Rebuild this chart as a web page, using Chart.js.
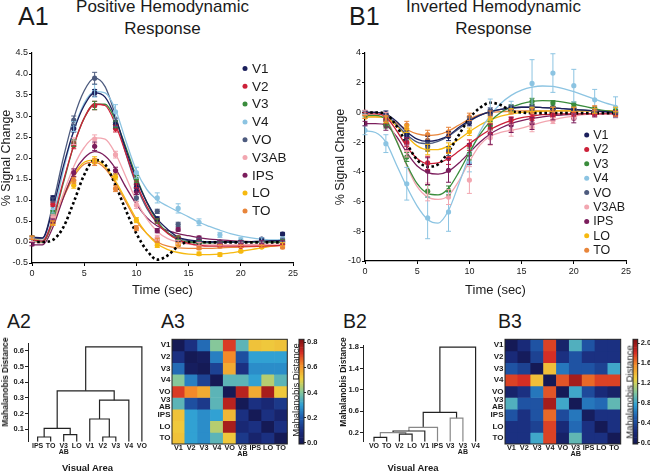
<!DOCTYPE html>
<html>
<head>
<meta charset="utf-8">
<title>Hemodynamic response</title>
<script src="https://cdn.jsdelivr.net/npm/chart.js@4.4.1/dist/chart.umd.min.js"></script>
<style>
  body { margin: 0; background: #fff; }
  #fig { position: relative; width: 650px; height: 471px; overflow: hidden; font-family: "Liberation Sans", Arial, sans-serif; color: #1a1a1a; }
  #fig canvas { position: absolute; }
  .txt { position: absolute; white-space: nowrap; }
  .panel { font-size: 25px; line-height: 1; }
  .small-panel { font-size: 19.5px; line-height: 1; }
  .title { font-size: 17px; line-height: 21.6px; text-align: center; width: 220px; }
  .vt { transform: translate(-50%, -50%) rotate(-90deg); }
  .ht { transform: translate(-50%, -50%); }
  .b { font-weight: bold; }
</style>
</head>
<body>
<div id="fig">
  <div class="txt panel" style="left:18px;top:4px">A1</div>
  <div class="txt title" style="left:52.5px;top:-4px">Positive Hemodynamic<br>Response</div>
  <div class="txt panel" style="left:349px;top:4px">B1</div>
  <div class="txt title" style="left:383.5px;top:-4px">Inverted Hemodynamic<br>Response</div>
  <canvas id="a1" width="325" height="262" style="left:0;top:40px"></canvas>
  <canvas id="b1" width="325" height="262" style="left:325px;top:40px"></canvas>

  <div class="txt small-panel" style="left:7px;top:312px">A2</div>
  <div class="txt small-panel" style="left:161px;top:312px">A3</div>
  <div class="txt small-panel" style="left:343px;top:312px">B2</div>
  <div class="txt small-panel" style="left:498px;top:312px">B3</div>

  <canvas id="a2" width="155" height="136" style="left:0;top:335px"></canvas>
  <canvas id="a3" width="140" height="141" style="left:150px;top:330px"></canvas>
  <canvas id="a3c" width="30" height="141" style="left:295px;top:330px"></canvas>
  <canvas id="b2" width="166" height="136" style="left:320px;top:335px"></canvas>
  <canvas id="b3" width="145" height="141" style="left:480px;top:330px"></canvas>
  <canvas id="b3c" width="21" height="141" style="left:629px;top:330px"></canvas>

  <div class="txt vt b" style="left:5px;top:382px;font-size:8.5px">Mahalanobis Distance</div>
  <div class="txt ht b" style="left:87.5px;top:466.5px;font-size:9.5px">Visual Area</div>
  <div class="txt vt b" style="left:342.7px;top:382px;font-size:8.5px">Mahalanobis Distance</div>
  <div class="txt ht b" style="left:413px;top:466.5px;font-size:9.5px">Visual Area</div>
  <div class="txt vt" style="left:294.5px;top:390px;font-size:9.5px">Mahalanobis Distance</div>
  <div class="txt vt" style="left:628.5px;top:392px;font-size:9.5px">Mahalanobis Distance</div>
</div>

<script>
// ---- data ----
const AREAS = ['V1', 'V2', 'V3', 'V4', 'VO', 'V3AB', 'IPS', 'LO', 'TO'];
const AREA_TICKS = ['V1', 'V2', 'V3', 'V4', 'VO', ['V3', 'AB'], 'IPS', 'LO', 'TO'];
const COLORS = ['#1b1f5c', '#cc2038', '#3a8c3c', '#8cc4e2', '#4d5b7e', '#f2a6b0', '#7b1d5c', '#f6b90f', '#e8853a'];

const T_PTS = [0, 2, 4, 6, 8, 10, 12, 14, 16, 18, 20, 22, 24];
const T_FIT = [0, 1, 2, 3, 4, 5, 6, 7, 8, 9, 10, 11, 12, 13, 14, 15, 16, 17, 18, 19, 20, 21, 22, 23, 24];
const X_TICKS = [0, 5, 10, 15, 20, 25];
const A1_YTICKS = [-0.5, 0, 0.5, 1, 1.5, 2, 2.5, 3, 3.5, 4, 4.5];
const B1_YTICKS = [-10, -8, -6, -4, -2, 0, 2, 4];

// A1: positive response, mean and s.e.m. per area (rows follow AREAS)
const A1_MEAN = [
  [0.10, 1.05, 2.70, 3.55, 2.80, 1.30, 0.55, 0.05, 0.00, -0.02, 0.00, 0.07, 0.19],
  [0.05, 0.90, 2.30, 3.25, 2.70, 1.37, 0.50, 0.10, -0.05, -0.08, -0.10, -0.08, -0.05],
  [0.05, 0.70, 2.35, 3.25, 2.80, 1.50, 0.50, 0.10, 0.00, -0.02, 0.00, 0.00, 0.02],
  [0.05, 0.75, 2.75, 3.60, 3.10, 1.65, 1.05, 0.80, 0.47, 0.17, 0.05, 0.05, 0.07],
  [0.10, 1.00, 2.90, 3.90, 2.85, 1.05, 0.73, 0.42, 0.05, 0.00, 0.00, 0.00, 0.05],
  [0.05, 0.60, 2.40, 2.45, 2.08, 0.88, 0.10, 0.00, -0.05, -0.06, -0.05, -0.05, -0.05],
  [-0.05, 0.50, 1.65, 2.28, 1.70, 1.20, 0.27, 0.30, 0.10, 0.00, 0.00, 0.00, 0.00],
  [0.10, 0.45, 1.35, 1.95, 1.55, 0.52, -0.08, -0.05, -0.28, -0.30, -0.22, -0.12, -0.06],
  [0.10, 0.45, 1.47, 1.90, 1.27, 0.33, 0.04, -0.05, -0.14, -0.10, -0.10, -0.10, -0.12]
];
const A1_SEM = [
  [0.04, 0.05, 0.08, 0.08, 0.08, 0.08, 0.05, 0.04, 0.04, 0.03, 0.03, 0.03, 0.04],
  [0.04, 0.05, 0.08, 0.10, 0.08, 0.08, 0.05, 0.04, 0.04, 0.03, 0.03, 0.03, 0.04],
  [0.04, 0.05, 0.08, 0.10, 0.08, 0.08, 0.05, 0.04, 0.04, 0.03, 0.03, 0.03, 0.04],
  [0.05, 0.06, 0.12, 0.15, 0.17, 0.13, 0.12, 0.11, 0.08, 0.06, 0.05, 0.05, 0.05],
  [0.04, 0.05, 0.10, 0.14, 0.10, 0.08, 0.05, 0.05, 0.04, 0.03, 0.03, 0.03, 0.04],
  [0.04, 0.05, 0.08, 0.10, 0.08, 0.08, 0.06, 0.04, 0.04, 0.03, 0.03, 0.03, 0.04],
  [0.04, 0.05, 0.09, 0.10, 0.08, 0.07, 0.05, 0.04, 0.04, 0.03, 0.03, 0.03, 0.04],
  [0.04, 0.05, 0.07, 0.08, 0.07, 0.06, 0.05, 0.04, 0.04, 0.04, 0.03, 0.03, 0.04],
  [0.04, 0.05, 0.07, 0.08, 0.07, 0.06, 0.05, 0.04, 0.04, 0.04, 0.03, 0.03, 0.04]
];
// fitted curves, read every second
const A1_FIT = [
  [0.12, 0.10, 0.80, 1.80, 2.65, 3.25, 3.55, 3.45, 2.95, 2.20, 1.50, 0.95, 0.55, 0.30, 0.12, 0.05, 0.02, 0, 0, 0, 0, 0.01, 0.02, 0.03, 0.04],
  [0.05, 0.02, 0.55, 1.45, 2.30, 2.95, 3.28, 3.25, 2.80, 2.10, 1.40, 0.85, 0.45, 0.20, 0.05, -0.03, -0.08, -0.10, -0.10, -0.10, -0.10, -0.10, -0.10, -0.09, -0.08],
  [0.05, 0.00, 0.50, 1.40, 2.30, 2.95, 3.28, 3.28, 2.90, 2.25, 1.55, 0.95, 0.50, 0.22, 0.06, 0, -0.02, -0.02, -0.01, 0, 0, 0, 0, 0, 0],
  [0.05, 0.03, 0.60, 1.70, 2.65, 3.30, 3.58, 3.55, 3.15, 2.40, 1.70, 1.25, 1.00, 0.85, 0.72, 0.60, 0.47, 0.37, 0.28, 0.20, 0.14, 0.10, 0.07, 0.05, 0.05],
  [0.10, 0.08, 0.90, 2.00, 2.95, 3.60, 3.90, 3.70, 3.00, 2.10, 1.35, 0.80, 0.45, 0.22, 0.10, 0.03, 0, 0, 0, 0, 0, 0, 0, 0, 0],
  [0, -0.02, 0.45, 1.15, 1.80, 2.25, 2.48, 2.45, 2.10, 1.55, 0.98, 0.55, 0.25, 0.08, 0, -0.05, -0.07, -0.07, -0.07, -0.07, -0.07, -0.06, -0.06, -0.05, -0.05],
  [-0.07, -0.07, 0.35, 1.05, 1.65, 2.00, 2.15, 2.05, 1.75, 1.30, 0.90, 0.58, 0.38, 0.27, 0.20, 0.15, 0.10, 0.07, 0.05, 0.03, 0.02, 0.01, 0, 0, 0],
  [0.10, 0.03, 0.45, 1.10, 1.60, 1.90, 1.95, 1.80, 1.45, 1.00, 0.55, 0.20, -0.05, -0.18, -0.25, -0.29, -0.30, -0.30, -0.29, -0.26, -0.22, -0.18, -0.14, -0.10, -0.07],
  [0.10, 0.03, 0.45, 1.05, 1.55, 1.85, 1.90, 1.75, 1.40, 0.95, 0.50, 0.20, 0, -0.10, -0.14, -0.15, -0.15, -0.15, -0.14, -0.13, -0.12, -0.11, -0.10, -0.09, -0.08]
];
const A1_HRF = [0, 0, 0.05, 0.35, 0.95, 1.60, 1.95, 1.85, 1.35, 0.75, 0.20, -0.20, -0.42, -0.32, -0.10, 0, 0, -0.01, -0.01, -0.01, -0.01, -0.01, -0.01, -0.01, -0.01];

// B1: inverted response
const B1_MEAN = [
  [0, -0.10, -1.50, -1.90, -1.60, -0.70, 0.10, 0.35, 0.40, 0.30, 0.20, 0.10, 0],
  [-0.10, -0.50, -2.00, -3.40, -3.10, -2.20, -1.10, -0.50, -0.35, -0.20, -0.10, -0.10, -0.20],
  [-0.20, -0.80, -3.00, -5.30, -5.25, -2.80, -0.90, 0.30, 0.75, 0.65, 0.55, 0.20, 0.10],
  [-1.20, -2.10, -4.80, -7.10, -6.70, -3.40, 0.10, 0.35, 1.95, 2.65, 1.80, 0.85, 0.35],
  [0, -0.30, -1.60, -2.30, -2.60, -0.50, 0, 0.30, 0.30, 0.30, 0.20, 0.10, 0],
  [0, -0.30, -2.60, -5.35, -5.70, -4.55, -1.70, -1.20, -1.00, -0.55, -0.30, -0.10, -0.10],
  [-0.75, -0.90, -2.10, -3.95, -3.90, -2.80, -1.45, -0.85, -0.75, -0.20, -0.40, -0.10, -0.10],
  [-0.30, -0.50, -1.10, -2.50, -2.40, -1.30, -0.50, 0.10, 0.20, 0.20, 0.20, 0.10, 0.20],
  [-0.30, -0.40, -0.85, -1.50, -1.30, -0.30, -0.10, 0.05, 0.10, 0.20, 0.20, 0.30, -0.10]
];
const B1_SEM = [
  [0.10, 0.20, 0.25, 0.30, 0.30, 0.20, 0.20, 0.15, 0.15, 0.10, 0.10, 0.10, 0.10],
  [0.10, 0.25, 0.30, 0.45, 0.40, 0.35, 0.30, 0.20, 0.20, 0.15, 0.15, 0.15, 0.15],
  [0.10, 0.25, 0.30, 0.40, 0.30, 0.40, 0.30, 0.20, 0.20, 0.15, 0.15, 0.15, 0.10],
  [0.30, 0.60, 1.10, 1.40, 1.30, 0.60, 0.80, 0.40, 1.60, 1.30, 1.10, 0.70, 0.70],
  [0.10, 0.20, 0.25, 0.30, 0.30, 0.20, 0.20, 0.15, 0.15, 0.10, 0.10, 0.10, 0.10],
  [0.15, 0.30, 0.40, 0.60, 0.50, 0.90, 0.50, 0.40, 0.30, 0.20, 0.20, 0.20, 0.20],
  [0.15, 0.30, 0.40, 0.90, 0.80, 0.70, 0.70, 0.50, 0.40, 0.30, 0.30, 0.20, 0.20],
  [0.10, 0.20, 0.25, 0.35, 0.35, 0.25, 0.20, 0.15, 0.15, 0.15, 0.15, 0.15, 0.15],
  [0.10, 0.20, 0.25, 0.30, 0.30, 0.25, 0.20, 0.15, 0.15, 0.15, 0.15, 0.15, 0.15]
];
const B1_FIT = [
  [0, 0, -0.10, -0.60, -1.30, -1.80, -1.95, -1.85, -1.55, -1.00, -0.55, -0.20, 0.05, 0.20, 0.30, 0.35, 0.35, 0.33, 0.30, 0.25, 0.20, 0.15, 0.10, 0.05, 0],
  [-0.10, -0.10, -0.30, -1.20, -2.30, -3.10, -3.45, -3.40, -3.10, -2.60, -2.10, -1.60, -1.15, -0.80, -0.55, -0.35, -0.25, -0.15, -0.12, -0.10, -0.10, -0.10, -0.10, -0.10, -0.10],
  [-0.20, -0.20, -0.50, -1.90, -3.50, -4.80, -5.45, -5.55, -5.10, -4.00, -2.70, -1.50, -0.60, 0, 0.35, 0.60, 0.75, 0.80, 0.78, 0.70, 0.55, 0.40, 0.25, 0.12, 0.05],
  [-1.25, -1.35, -2.00, -3.50, -5.00, -6.30, -7.20, -7.45, -6.60, -4.80, -2.90, -1.30, -0.20, 0.60, 1.15, 1.50, 1.70, 1.78, 1.75, 1.60, 1.40, 1.15, 0.90, 0.65, 0.45],
  [0, 0, -0.15, -0.80, -1.50, -2.00, -2.10, -1.95, -1.60, -1.10, -0.60, -0.20, 0.05, 0.20, 0.30, 0.35, 0.35, 0.33, 0.30, 0.25, 0.20, 0.15, 0.10, 0.05, 0.02],
  [0, 0, -0.40, -1.80, -3.60, -5.00, -5.70, -5.85, -5.60, -4.60, -3.30, -2.20, -1.60, -1.35, -1.20, -1.05, -0.85, -0.65, -0.50, -0.35, -0.25, -0.15, -0.10, -0.05, -0.05],
  [-0.75, -0.75, -0.85, -1.60, -2.70, -3.60, -4.05, -4.15, -3.95, -3.40, -2.70, -2.00, -1.45, -1.05, -0.75, -0.55, -0.40, -0.30, -0.22, -0.17, -0.13, -0.10, -0.08, -0.07, -0.06],
  [-0.30, -0.30, -0.35, -0.90, -1.60, -2.25, -2.50, -2.50, -2.25, -1.80, -1.30, -0.85, -0.50, -0.25, -0.10, 0, 0.05, 0.08, 0.10, 0.10, 0.10, 0.10, 0.10, 0.10, 0.10],
  [-0.30, -0.30, -0.35, -0.70, -1.15, -1.45, -1.55, -1.50, -1.25, -0.85, -0.45, -0.15, 0, 0.05, 0.08, 0.10, 0.10, 0.10, 0.10, 0.10, 0.10, 0.10, 0.10, 0.10, 0.10]
];
const B1_HRF = [0, 0, -0.10, -0.90, -2.10, -3.20, -3.65, -3.50, -2.65, -1.50, -0.40, 0.30, 0.65, 0.50, 0.10, 0, -0.05, -0.05, -0.05, -0.05, -0.05, -0.05, -0.05, -0.05, -0.05];

// dendrograms: leaf order, then merges [nodeA, nodeB, height] (new nodes numbered after the leaves)
const A2_LEAVES = ['IPS', 'TO', ['V3', 'AB'], 'LO', 'V1', 'V2', 'V3', 'V4', 'VO'];
const A2_LINKS = [[0, 1, 0.05], [2, 3, 0.065], [9, 10, 0.105], [5, 6, 0.05], [4, 12, 0.165], [13, 7, 0.285], [11, 14, 0.345], [15, 8, 0.625]];
const A2_YTICKS = [0.1, 0.2, 0.3, 0.4, 0.5, 0.6];
const B2_LEAVES = ['VO', 'TO', 'V2', 'LO', 'V1', 'IPS', 'V3', ['V3', 'AB'], 'V4'];
const B2_LINKS = [[0, 1, 0.11], [2, 3, 0.17], [9, 10, 0.2], [11, 4, 0.23], [12, 5, 0.3], [6, 7, 0.47], [13, 14, 0.58], [15, 8, 1.8]];
const B2_YTICKS = [0.2, 0.6, 1.0, 1.4, 1.8];

// distance matrices (rows and columns follow AREAS)
const A3_DIST = [
  [0.00, 0.10, 0.22, 0.40, 0.70, 0.35, 0.53, 0.52, 0.53],
  [0.10, 0.00, 0.02, 0.25, 0.62, 0.17, 0.30, 0.30, 0.30],
  [0.22, 0.02, 0.00, 0.14, 0.57, 0.10, 0.27, 0.27, 0.27],
  [0.40, 0.25, 0.14, 0.00, 0.35, 0.35, 0.30, 0.45, 0.35],
  [0.70, 0.62, 0.57, 0.35, 0.00, 0.75, 0.57, 0.77, 0.52],
  [0.35, 0.17, 0.12, 0.35, 0.75, 0.00, 0.10, 0.07, 0.12],
  [0.53, 0.30, 0.27, 0.30, 0.55, 0.10, 0.00, 0.10, 0.05],
  [0.52, 0.30, 0.27, 0.45, 0.77, 0.07, 0.10, 0.00, 0.10],
  [0.53, 0.30, 0.27, 0.35, 0.52, 0.12, 0.05, 0.10, 0.00]
];
const A3_CLIM = [-0.01, 0.824];
const A3_CTICKS = [0, 0.2, 0.4, 0.6, 0.8];
const B3_DIST = [
  [0.00, 0.20, 0.45, 1.75, 0.12, 0.85, 0.45, 0.25, 0.25],
  [0.20, 0.03, 0.35, 1.80, 0.25, 0.45, 0.25, 0.25, 0.25],
  [0.45, 0.35, 0.00, 1.35, 0.60, 0.45, 0.45, 0.35, 0.80],
  [1.75, 1.80, 1.35, 0.00, 1.70, 1.95, 1.65, 1.75, 1.75],
  [0.12, 0.25, 0.60, 1.70, 0.00, 0.80, 0.40, 0.20, 0.10],
  [0.85, 0.45, 0.45, 1.95, 0.80, 0.00, 0.60, 0.55, 0.90],
  [0.45, 0.25, 0.45, 1.65, 0.40, 0.60, 0.05, 0.25, 0.25],
  [0.25, 0.25, 0.35, 1.75, 0.20, 0.55, 0.25, 0.00, 0.25],
  [0.25, 0.25, 0.80, 1.75, 0.10, 0.90, 0.25, 0.25, 0.00]
];
const B3_CLIM = [-0.026, 2.08];
const B3_CTICKS = [0, 0.4, 0.8, 1.2, 1.6, 2.0];

// ---- helpers ----
const FONT = '"Liberation Sans", Arial, sans-serif';
Chart.defaults.font.family = FONT;
Chart.defaults.color = '#1a1a1a';
Chart.defaults.animation = false;
Chart.defaults.plugins.legend.display = false;
Chart.defaults.plugins.tooltip.enabled = false;

// fixed axis thickness so the plot areas sit where the figure has them
const fixW = w => s => { s.width = w; s.paddingTop = 0; s.paddingBottom = 0; };
const fixH = h => s => { s.height = h; s.paddingLeft = 0; s.paddingRight = 0; };
const setTicks = vals => s => { s.ticks = vals.map(v => ({ value: v })); };

// muted jet, as printed in the figure
const CMAP = [
  [0.00, [20, 24, 82]], [0.12, [26, 44, 125]], [0.25, [32, 92, 172]], [0.37, [48, 160, 212]],
  [0.50, [140, 202, 150]], [0.62, [238, 208, 62]], [0.75, [244, 142, 42]], [0.87, [212, 44, 36]], [1.00, [122, 16, 20]]
];
function cmap(t) {
  t = Math.max(0, Math.min(1, t));
  let i = 0;
  while (i < CMAP.length - 2 && t > CMAP[i + 1][0]) i++;
  const [t0, c0] = CMAP[i], [t1, c1] = CMAP[i + 1];
  const f = (t - t0) / (t1 - t0);
  return `rgb(${c0.map((c, k) => Math.round(c + (c1[k] - c) * f)).join(',')})`;
}

const errorBars = {
  id: 'errorBars',
  afterDatasetsDraw(chart) {
    const { ctx, scales: { x, y } } = chart;
    chart.data.datasets.forEach(ds => {
      if (!ds.errors) return;
      ctx.save();
      ctx.strokeStyle = ds.borderColor;
      ctx.lineWidth = 1;
      ds.data.forEach((p, j) => {
        const px = x.getPixelForValue(p.x);
        const top = y.getPixelForValue(p.y + ds.errors[j]);
        const bot = y.getPixelForValue(p.y - ds.errors[j]);
        ctx.beginPath();
        ctx.moveTo(px, top); ctx.lineTo(px, bot);
        ctx.moveTo(px - 2.5, top); ctx.lineTo(px + 2.5, top);
        ctx.moveTo(px - 2.5, bot); ctx.lineTo(px + 2.5, bot);
        ctx.stroke();
      });
      ctx.restore();
    });
  }
};

const insetLegend = {
  id: 'insetLegend',
  afterDraw(chart, args, o) {
    const ctx = chart.ctx;
    ctx.save();
    ctx.font = `${o.size}px ${FONT}`;
    ctx.textBaseline = 'middle';
    AREAS.forEach((a, i) => {
      const y = o.y + i * o.dy;
      ctx.fillStyle = COLORS[i];
      ctx.beginPath(); ctx.arc(o.x, y, 2.5, 0, Math.PI * 2); ctx.fill();
      ctx.fillStyle = '#1a1a1a';
      ctx.fillText(a, o.x + o.gap, y + 0.5);
    });
    ctx.restore();
  }
};

const frame = {
  id: 'frame',
  afterDraw(chart) {
    const { ctx, chartArea: a } = chart;
    ctx.save();
    ctx.strokeStyle = '#222';
    ctx.lineWidth = 1;
    ctx.strokeRect(a.left, a.top, a.right - a.left, a.bottom - a.top);
    ctx.restore();
  }
};

function responseChart(id, mean, sem, fit, hrf, yTicks, yDec, yW, padRight, xH, titlePad, legend) {
  const datasets = [];
  AREAS.forEach((a, i) => {
    datasets.push({
      label: a + ' fit', data: T_FIT.map((t, j) => ({ x: t, y: fit[i][j] })),
      borderColor: COLORS[i], borderWidth: 1.3, pointRadius: 0,
      cubicInterpolationMode: 'monotone', order: 3
    });
    datasets.push({
      label: a, data: T_PTS.map((t, j) => ({ x: t, y: mean[i][j] })), errors: sem[i],
      showLine: false, borderColor: COLORS[i], pointRadius: 2.6,
      pointBackgroundColor: COLORS[i], pointBorderWidth: 0, order: 1
    });
  });
  datasets.push({
    label: 'canonical', data: T_FIT.map((t, j) => ({ x: t, y: hrf[j] })),
    borderColor: '#000', borderWidth: 2.6, borderDash: [2.6, 2.6], pointRadius: 0,
    cubicInterpolationMode: 'monotone', order: 2
  });
  const axisGrid = { drawOnChartArea: false, drawTicks: true, tickLength: 3, color: '#000' };
  new Chart(document.getElementById(id), {
    type: 'line',
    data: { datasets },
    options: {
      responsive: false, devicePixelRatio: 1,
      layout: { padding: { left: 0, top: 13, right: padRight, bottom: 0 } },
      scales: {
        x: {
          type: 'linear', min: 0, max: 25,
          afterBuildTicks: setTicks(X_TICKS), afterFit: fixH(xH),
          grid: axisGrid, border: { color: '#000', width: 1.2 },
          ticks: { font: { size: 9 }, padding: 2 },
          title: { display: true, text: 'Time (sec)', font: { size: 13 }, padding: { top: 0, bottom: 4 } }
        },
        y: {
          min: yTicks[0], max: yTicks[yTicks.length - 1],
          afterBuildTicks: setTicks(yTicks), afterFit: fixW(yW),
          grid: axisGrid, border: { color: '#000', width: 1.2 },
          ticks: { font: { size: 9 }, padding: 1, callback: v => v.toFixed(yDec) },
          title: { display: true, text: '% Signal Change', font: { size: 12.5, lineHeight: 1 }, padding: { top: titlePad, bottom: 0 } }
        }
      },
      plugins: { insetLegend: legend }
    },
    plugins: [errorBars, insetLegend]
  });
}

function dendrogram(id, leaves, links, yRange, yTicks, xRange, yW, padTop, padRight, xH, colors) {
  const nx = leaves.map((_, i) => i);
  const nh = leaves.map(() => yRange[0]);
  const datasets = links.map(([a, b, h], k) => {
    nx.push((nx[a] + nx[b]) / 2);
    nh.push(h);
    return {
      data: [{ x: nx[a], y: nh[a] }, { x: nx[a], y: h }, { x: nx[b], y: h }, { x: nx[b], y: nh[b] }],
      showLine: true, borderColor: colors[k], borderWidth: 1.2, pointRadius: 0, tension: 0
    };
  });
  new Chart(document.getElementById(id), {
    type: 'scatter',
    data: { datasets },
    options: {
      responsive: false, devicePixelRatio: 1,
      layout: { padding: { left: 0, top: padTop, right: padRight, bottom: 0 } },
      scales: {
        x: {
          min: xRange[0], max: xRange[1],
          afterBuildTicks: setTicks(leaves.map((_, i) => i)), afterFit: fixH(xH),
          grid: { display: false, drawTicks: false }, border: { display: false },
          ticks: { autoSkip: false, maxRotation: 0, padding: 1.5, font: { size: 7, weight: 'bold', lineHeight: 0.8 }, callback: v => leaves[v] }
        },
        y: {
          min: yRange[0], max: yRange[1],
          afterBuildTicks: setTicks(yTicks), afterFit: fixW(yW),
          grid: { drawOnChartArea: false, drawTicks: true, tickLength: 3, color: '#222' },
          border: { color: '#222', width: 1 },
          ticks: { padding: 1, font: { size: 7.5, weight: 'bold' }, callback: v => v.toFixed(1) }
        }
      }
    }
  });
}

function heatmap(id, dist, clim, yW, padRight) {
  const span = clim[1] - clim[0];
  const datasets = dist.map((row, r) => ({
    data: row.map(() => [r, r + 1]),
    backgroundColor: row.map(v => cmap((v - clim[0]) / span)),
    borderWidth: 0, barPercentage: 1, categoryPercentage: 1, grouped: false
  }));
  new Chart(document.getElementById(id), {
    type: 'bar',
    data: { labels: AREA_TICKS, datasets },
    options: {
      responsive: false, devicePixelRatio: 1,
      layout: { padding: { left: 0, top: 9.3, right: padRight, bottom: 0 } },
      scales: {
        x: {
          afterFit: fixH(27), grid: { display: false, drawTicks: false }, border: { display: false },
          ticks: { autoSkip: false, maxRotation: 0, padding: 1.5, font: { size: 7.3, weight: 'bold', lineHeight: 0.8 } }
        },
        y: {
          min: 0, max: 9, reverse: true,
          afterBuildTicks: setTicks(AREAS.map((_, i) => i + 0.5)), afterFit: fixW(yW),
          grid: { display: false, drawTicks: false }, border: { display: false },
          ticks: { autoSkip: false, padding: 1.5, font: { size: 8, weight: 'bold', lineHeight: 0.8 }, callback: v => AREA_TICKS[Math.floor(v)] }
        }
      }
    },
    plugins: [frame]
  });
}

function colorbar(id, clim, ticks, axisW, dec) {
  const steps = 64, span = clim[1] - clim[0];
  const datasets = [];
  for (let i = 0; i < steps; i++) {
    const lo = clim[0] + span * i / steps, hi = clim[0] + span * (i + 1) / steps;
    datasets.push({ data: [[lo, hi]], backgroundColor: cmap((i + 0.5) / steps), borderWidth: 0, barPercentage: 1, categoryPercentage: 1, grouped: false });
  }
  new Chart(document.getElementById(id), {
    type: 'bar',
    data: { labels: [''], datasets },
    options: {
      responsive: false, devicePixelRatio: 1,
      layout: { padding: { left: 4, top: 9.3, right: 0, bottom: 27 } },
      scales: {
        x: { display: false },
        y: {
          position: 'right', min: clim[0], max: clim[1],
          afterBuildTicks: setTicks(ticks), afterFit: fixW(axisW),
          grid: { drawOnChartArea: false, drawTicks: true, tickLength: 2, color: '#222' },
          border: { display: false },
          ticks: { padding: 1, font: { size: 7.5, weight: 'bold' }, callback: v => v.toFixed(dec) }
        }
      }
    },
    plugins: [frame]
  });
}

// ---- panels ----
responseChart('a1', A1_MEAN, A1_SEM, A1_FIT, A1_HRF, A1_YTICKS, 1, 32, 32, 39, 0,
  { x: 245, y: 28.5, dy: 17.8, gap: 7, size: 13.5 });
responseChart('b1', B1_MEAN, B1_SEM, B1_FIT, B1_HRF, B1_YTICKS, 0, 40, 24, 41, 9,
  { x: 261.7, y: 95, dy: 14.4, gap: 6.5, size: 12.5 });

dendrogram('a2', A2_LEAVES, A2_LINKS, [0.02, 0.65], A2_YTICKS, [-0.74, 8.7], 28, 8, 4, 29.3,
  ['#222', '#222', '#222', '#222', '#222', '#222', '#222', '#222']);
dendrogram('b2', B2_LEAVES, B2_LINKS, [0.03, 1.84], B2_YTICKS, [-0.866, 8.7], 43, 10, 1.5, 29.3,
  ['#222', '#222', '#888', '#222', '#888', '#888', '#222', '#222']);

heatmap('a3', A3_DIST, A3_CLIM, 22, 2.7);
heatmap('b3', B3_DIST, B3_CLIM, 25, 4.3);
colorbar('a3c', A3_CLIM, A3_CTICKS, 21, 1);
colorbar('b3c', B3_CLIM, B3_CTICKS, 12.3, 1);
</script>
</body>
</html>
